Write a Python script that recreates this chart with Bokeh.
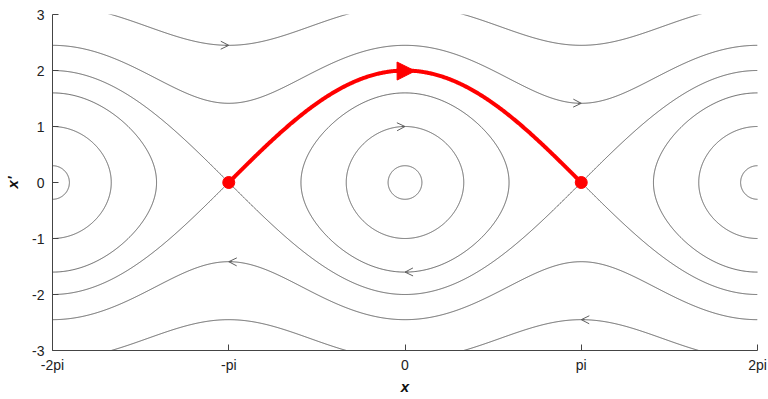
import numpy as np
from bokeh.plotting import figure
from bokeh.models import FixedTicker, Arrow, OpenHead, NormalHead, Range1d
from bokeh.embed import file_html
from bokeh.resources import INLINE

# Phase portrait of the pendulum x'' = -sin(x); energy E = x'^2/2 + 1 - cos(x)
closed_levels = [0.045, 0.5, 1.28]      # librating orbits (inside the separatrix)
separatrix_level = 2.0
rotating_levels = [3.0, 5.0]            # orbits that go over the top

# small direction markers: (x position, energy level, branch sign)
marker_x = [-np.pi, np.pi, 0.0, 0.0, -np.pi, np.pi]
marker_E = [5.0, 3.0, 0.5, 1.28, 3.0, 5.0]
marker_sign = [1, 1, 1, -1, -1, -1]

# highlighted heteroclinic orbit between the two saddles
saddle_x = [-np.pi, np.pi]
saddle_y = [0.0, 0.0]

x_ticks = [-2 * np.pi, -np.pi, 0.0, np.pi, 2 * np.pi]
x_tick_labels = ["-2pi", "-pi", "0", "pi", "2pi"]
y_ticks = [-3, -2, -1, 0, 1, 2, 3]
y_tick_labels = ["-3", "-2", "-1", "0", "1", "2", "3"]

GRAY = "#5f5f5f"
RED = "#ff0000"
FONT = "Liberation Sans"


def speed(x, E):
    return np.sqrt(np.clip(2.0 * (E - 1.0 + np.cos(x)), 0, None))


p = figure(width=768, height=399, output_backend="svg", toolbar_location=None,
           x_range=Range1d(-2 * np.pi, 2 * np.pi), y_range=Range1d(-3, 3),
           min_border_left=52, min_border_right=11, min_border_top=14,
           min_border_bottom=49)
p.outline_line_color = None
p.xgrid.visible = False
p.ygrid.visible = False
p.background_fill_color = "white"

# closed orbits around the stable equilibria at 0 and +/-2pi
t = np.linspace(-np.pi / 2, np.pi / 2, 400)
for E in closed_levels:
    xmax = np.arccos(1.0 - E)
    xs = xmax * np.sin(t)
    v = speed(xs, E)
    loop_x = np.concatenate([xs, xs[::-1]])
    loop_y = np.concatenate([v, -v[::-1]])
    for c in (-2 * np.pi, 0.0, 2 * np.pi):
        p.line(loop_x + c, loop_y, line_color=GRAY, line_width=1)

# separatrix and rotating orbits across the whole window
xx = np.linspace(-2 * np.pi, 2 * np.pi, 1200)
for E in [separatrix_level] + rotating_levels:
    v = speed(xx, E)
    p.line(xx, v, line_color=GRAY, line_width=1)
    p.line(xx, -v, line_color=GRAY, line_width=1)

# direction markers
for mx, mE, s in zip(marker_x, marker_E, marker_sign):
    x0 = mx - s * 0.06
    x1 = mx
    p.add_layout(Arrow(end=OpenHead(size=8, line_color=GRAY, line_width=1),
                       x_start=x0, y_start=s * speed(x0, mE),
                       x_end=x1, y_end=s * speed(x1, mE),
                       line_color=GRAY, line_width=1))

# highlighted orbit
xr = np.linspace(saddle_x[0], saddle_x[1], 400)
p.line(xr, speed(xr, separatrix_level), line_color=RED, line_width=4)
xa0, xa1 = -0.2, 0.18
p.add_layout(Arrow(end=NormalHead(size=18, fill_color=RED, line_color=RED),
                   x_start=xa0, y_start=speed(xa0, separatrix_level),
                   x_end=xa1, y_end=speed(xa1, separatrix_level),
                   line_color=RED, line_width=4))
p.scatter(saddle_x, saddle_y, size=12, color=RED)

# axes
p.xaxis.ticker = FixedTicker(ticks=x_ticks)
p.xaxis.major_label_overrides = {t_: l for t_, l in zip(x_ticks, x_tick_labels)}
p.yaxis.ticker = FixedTicker(ticks=y_ticks)
p.yaxis.major_label_overrides = {t_: l for t_, l in zip(y_ticks, y_tick_labels)}
for ax in (p.xaxis[0], p.yaxis[0]):
    ax.major_tick_in = 6
    ax.major_tick_out = 0
    ax.minor_tick_line_color = None
    ax.axis_line_color = "#444444"
    ax.major_tick_line_color = "#444444"
    ax.major_label_text_font = FONT
    ax.major_label_text_font_size = "14px"
    ax.major_label_text_color = "#222222"
    ax.axis_label_text_font = FONT
    ax.axis_label_text_font_size = "15px"
    ax.axis_label_text_font_style = "bold italic"
    ax.axis_label_text_color = "#111111"
p.xaxis.axis_label = "x"
p.yaxis.axis_label = "x'"
p.xaxis.major_label_standoff = 6
p.yaxis.major_label_standoff = 8
p.xaxis.axis_label_standoff = 2
p.yaxis.axis_label_standoff = 8

open("out.html", "w").write(file_html(p, INLINE))
